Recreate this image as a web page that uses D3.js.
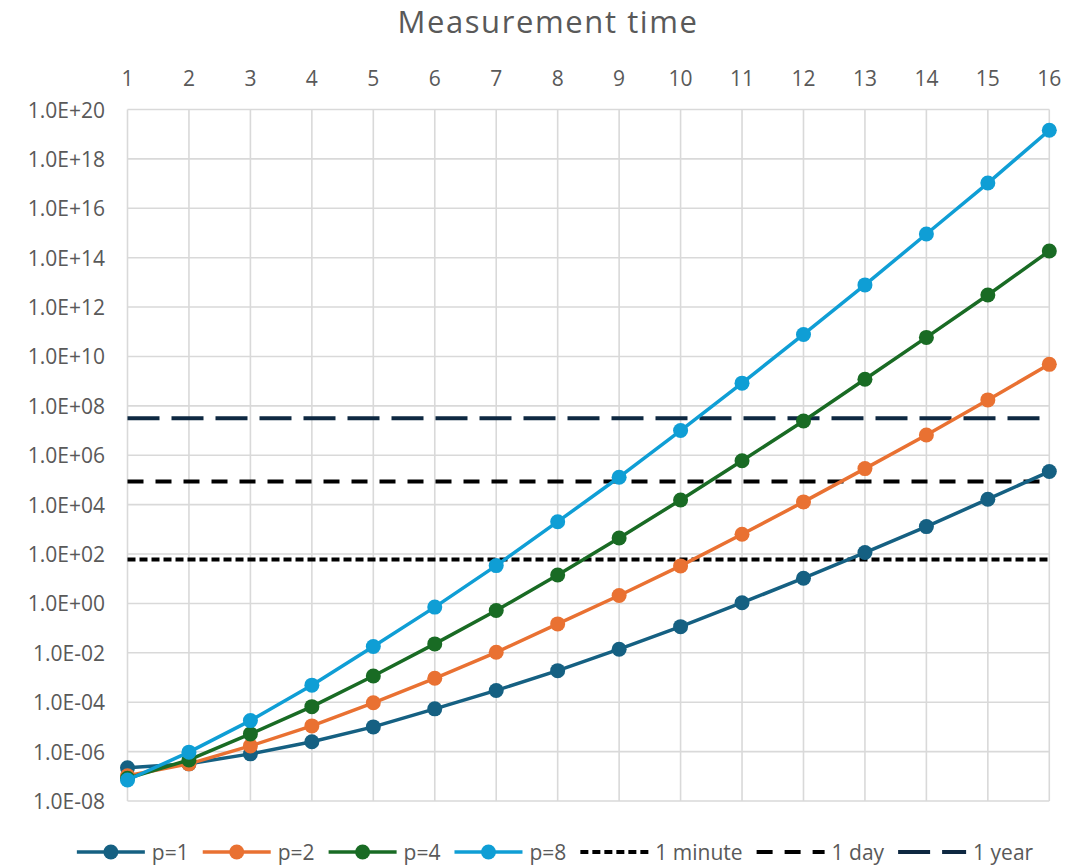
<!DOCTYPE html>
<html>
<head>
<meta charset="utf-8">
<script src="https://cdn.jsdelivr.net/npm/d3@7"></script>
<style>
  body { margin: 0; background: #fff; }
  text { font-family: "Open Sans", sans-serif; fill: #595959; }
</style>
</head>
<body>
<svg id="chart" width="1084" height="865"></svg>
<script>
// x categories (top axis)
const steps = d3.range(1, 17)

// measurement time per step, one array per series
const p1 = [2.2e-7, 3.2e-7, 8.1e-7, 2.5e-6, 1.0e-5, 5.4e-5, 3.0e-4, 1.9e-3, 1.4e-2, 1.15e-1, 1.07, 10.5, 115, 1.29e3, 1.66e4, 2.19e5]
const p2 = [1.05e-7, 3.2e-7, 1.7e-6, 1.1e-5, 9.5e-5, 9.3e-4, 1.05e-2, 1.48e-1, 2.09, 33, 631, 1.29e4, 2.88e5, 6.6e6, 1.74e8, 4.8e9]
const p4 = [8.3e-8, 4.6e-7, 5.2e-6, 6.6e-5, 1.15e-3, 2.3e-2, 0.52, 14.1, 447, 1.55e4, 6.0e5, 2.45e7, 1.2e9, 5.9e10, 3.1e12, 1.86e14]
const p8 = [7.1e-8, 9.5e-7, 1.8e-5, 4.9e-4, 1.8e-2, 0.71, 34, 2.04e3, 1.29e5, 1.0e7, 8.3e8, 7.8e10, 7.9e12, 9.1e14, 1.05e17, 1.45e19]

// reference levels (seconds)
const refNames = ['1 minute', '1 day', '1 year']
const refValues = [60, 86400, 31536000]

// y ticks every two decades
const yTicks = d3.range(-8, 21, 2).map(e => Math.pow(10, e))

const series = [
  { name: 'p=1', values: p1, color: '#156082' },
  { name: 'p=2', values: p2, color: '#E97132' },
  { name: 'p=4', values: p4, color: '#196B24' },
  { name: 'p=8', values: p8, color: '#0F9ED5' }
]
const refs = [
  { name: refNames[0], value: refValues[0], color: '#000000', dash: '8,4' },
  { name: refNames[1], value: refValues[1], color: '#000000', dash: '16,12' },
  { name: refNames[2], value: refValues[2], color: '#0E2841', dash: '32,12' }
]

const svg = d3.select('#chart')
const plot = { left: 127.5, right: 1049.3, top: 109.5, bottom: 801 }

const x = d3.scaleLinear().domain([1, 16]).range([plot.left, plot.right])
const y = d3.scaleLog().domain([1e-8, 1e20]).range([plot.bottom, plot.top])

const fmt = v => {
  const e = Math.round(Math.log10(v))
  return '1.0E' + (e < 0 ? '-' : '+') + String(Math.abs(e)).padStart(2, '0')
}

// title
svg.append('text')
  .attr('x', 548).attr('y', 33)
  .attr('text-anchor', 'middle')
  .style('font-size', '31px')
  .style('letter-spacing', '1.6px')
  .text('Measurement time')

// gridlines
const grid = svg.append('g').attr('stroke', '#d9d9d9').attr('stroke-width', 1.6)
grid.selectAll('line.h').data(yTicks).enter().append('line')
  .attr('x1', plot.left).attr('x2', plot.right)
  .attr('y1', d => y(d)).attr('y2', d => y(d))
grid.selectAll('line.v').data(steps).enter().append('line')
  .attr('x1', d => x(d)).attr('x2', d => x(d))
  .attr('y1', plot.top).attr('y2', plot.bottom)

// y labels
svg.append('g').selectAll('text').data(yTicks).enter().append('text')
  .attr('x', 105).attr('y', d => y(d))
  .attr('text-anchor', 'end')
  .attr('dominant-baseline', 'central')
  .style('font-size', '21px')
  .text(fmt)

// x labels at the top
svg.append('g').selectAll('text').data(steps).enter().append('text')
  .attr('x', d => x(d)).attr('y', 78)
  .attr('text-anchor', 'middle')
  .attr('dominant-baseline', 'central')
  .style('font-size', '21px')
  .text(d => d)

// reference lines
svg.append('g').selectAll('line').data(refs).enter().append('line')
  .attr('x1', plot.left).attr('x2', plot.right)
  .attr('y1', d => y(d.value)).attr('y2', d => y(d.value))
  .attr('stroke', d => d.color)
  .attr('stroke-width', 4)
  .attr('stroke-dasharray', d => d.dash)

// series lines + markers
const line = d3.line().x((d, i) => x(steps[i])).y(d => y(d))
series.forEach(s => {
  const g = svg.append('g')
  g.append('path')
    .attr('d', line(s.values))
    .attr('fill', 'none')
    .attr('stroke', s.color)
    .attr('stroke-width', 3.5)
    .attr('stroke-linejoin', 'round')
  g.selectAll('circle').data(s.values).enter().append('circle')
    .attr('cx', (d, i) => x(steps[i]))
    .attr('cy', d => y(d))
    .attr('r', 7.5)
    .attr('fill', s.color)
})

// legend
const legendY = 852
const items = series.map(s => ({ name: s.name, color: s.color, marker: true }))
  .concat(refs.map(r => ({ name: r.name, color: r.color, dash: r.dash })))
const lg = svg.append('g')
let cx = 0
const placed = []
items.forEach(it => {
  const t = lg.append('text')
    .attr('y', legendY)
    .attr('dominant-baseline', 'central')
    .style('font-size', '21px')
    .text(it.name)
  const w = t.node().getComputedTextLength()
  placed.push({ it, t, start: cx, w })
  cx += 68 + 7 + w + 14
})
const total = cx - 14
const off = 555 - total / 2
placed.forEach(p => {
  const sx = off + p.start
  lg.append('line')
    .attr('x1', sx).attr('x2', sx + 68)
    .attr('y1', legendY).attr('y2', legendY)
    .attr('stroke', p.it.color)
    .attr('stroke-width', p.it.marker ? 3.5 : 4)
    .attr('stroke-dasharray', p.it.dash || null)
  if (p.it.marker) {
    lg.append('circle').attr('cx', sx + 34).attr('cy', legendY).attr('r', 7.5).attr('fill', p.it.color)
  }
  p.t.attr('x', sx + 68 + 7)
})
</script>
</body>
</html>
